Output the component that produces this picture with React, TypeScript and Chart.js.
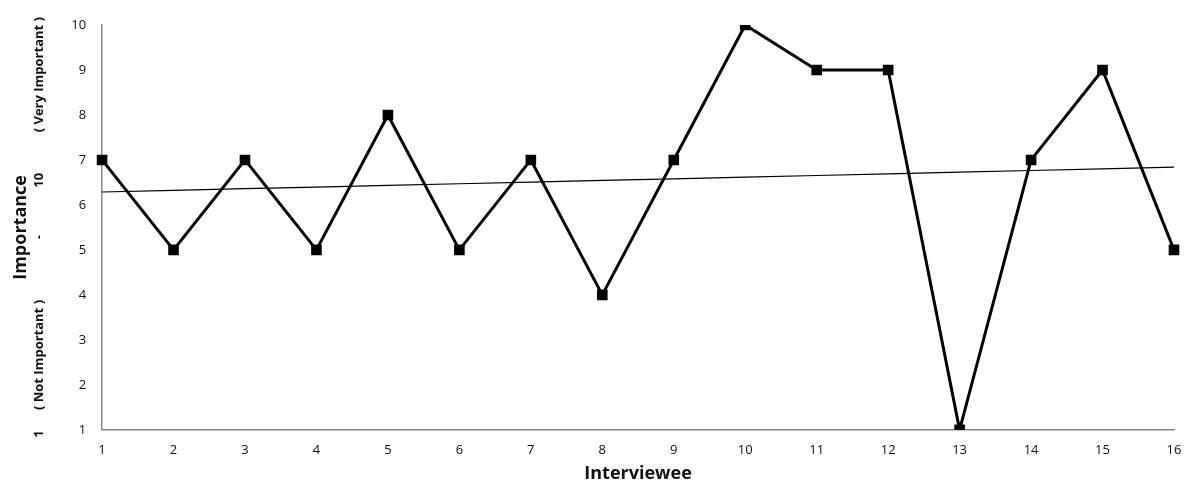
import React, { useEffect, useRef } from "react";
import { Chart, registerables } from "chart.js";

Chart.register(...registerables);

const interviewees: string[] = ["1", "2", "3", "4", "5", "6", "7", "8", "9", "10", "11", "12", "13", "14", "15", "16"];
const importance: number[] = [7, 5, 7, 5, 8, 5, 7, 4, 7, 10, 9, 9, 1, 7, 9, 5];
const yTitleMain = "Importance";
const yTitleScale = "1      ( Not Important )                  -              10            ( Very Important )";
const xTitle = "Interviewee";

function linearTrend(ys: number[]): number[] {
  const n = ys.length;
  const xs = ys.map((_, i) => i + 1);
  const mx = xs.reduce((a, b) => a + b, 0) / n;
  const my = ys.reduce((a, b) => a + b, 0) / n;
  let sxy = 0;
  let sxx = 0;
  for (let i = 0; i < n; i++) {
    sxy += (xs[i] - mx) * (ys[i] - my);
    sxx += (xs[i] - mx) * (xs[i] - mx);
  }
  const slope = sxy / sxx;
  const b = my - slope * mx;
  return xs.map((x) => b + slope * x);
}

export default function App() {
  const ref = useRef<HTMLCanvasElement | null>(null);
  useEffect(() => {
    if (!ref.current) return;
    const chart = new Chart(ref.current, {
      type: "line",
      data: {
        labels: interviewees,
        datasets: [
          {
            label: "Importance",
            data: importance,
            borderColor: "#000",
            backgroundColor: "#000",
            borderWidth: 3,
            pointStyle: "rect",
            pointRadius: 7.5,
            pointBorderWidth: 0,
            tension: 0,
          },
          {
            label: "Trend",
            data: linearTrend(importance),
            borderColor: "#000",
            borderWidth: 1.2,
            pointRadius: 0,
            tension: 0,
          },
        ],
      },
      options: {
        animation: false,
        responsive: false,
        maintainAspectRatio: false,
        layout: { padding: { top: 25, right: 5, bottom: 3, left: 10 } },
        plugins: { legend: { display: false }, tooltip: { enabled: false } },
        scales: {
          x: {
            offset: false,
            grid: { display: false, drawTicks: false },
            border: { display: true, color: "#888", width: 1.5 },
            afterFit: (scale: any) => {
              scale.paddingRight = 15;
            },
            ticks: {
              color: "#111",
              padding: 13,
              maxRotation: 0,
              font: { family: "Open Sans", size: 13 },
            },
            title: {
              display: true,
              text: xTitle,
              color: "#111",
              padding: { top: -8, bottom: 0 },
              font: { family: "Open Sans", size: 18, weight: "bold" },
            },
          },
          y: {
            min: 1,
            max: 10,
            weight: 0,
            grid: { display: false, drawTicks: false },
            border: { display: true, color: "#888", width: 1.5 },
            ticks: {
              stepSize: 1,
              color: "#111",
              padding: 16,
              font: { family: "Open Sans", size: 13 },
            },
            title: {
              display: true,
              text: yTitleScale,
              color: "#111",
              padding: { top: 0, bottom: 8 },
              font: { family: "Open Sans", size: 13, weight: "bold" },
            },
          },
          yTitle: {
            type: "linear",
            position: "left",
            weight: 1,
            min: 1,
            max: 10,
            grid: { display: false, drawTicks: false },
            border: { display: false },
            ticks: { display: false },
            title: {
              display: true,
              text: yTitleMain,
              color: "#111",
              padding: { top: 0, bottom: 0 },
              font: { family: "Open Sans", size: 18, weight: "bold" },
            },
          },
        },
      },
    });
    return () => chart.destroy();
  }, []);
  return (
    <div style={{ position: "fixed", left: 0, top: 0, width: 1189, height: 488, background: "#fff" }}>
      <canvas ref={ref} width={1189} height={488} style={{ width: 1189, height: 488 }} />
    </div>
  );
}
